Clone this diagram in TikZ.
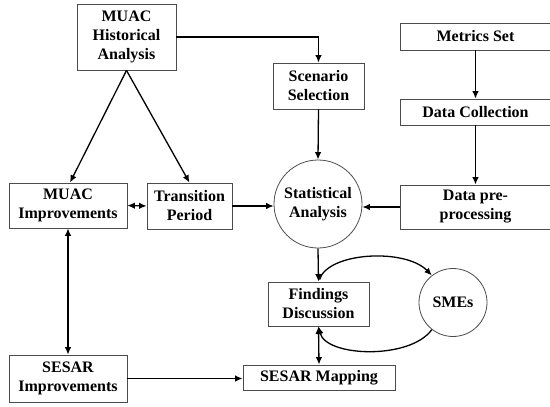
\documentclass[tikz,border=0pt]{standalone}
\usepackage{fontspec}
\setmainfont{Liberation Serif}
\usetikzlibrary{arrows.meta,calc}
\begin{document}
\begin{tikzpicture}[x=1pt,y=-1pt,
  box/.style={draw=black!70, line width=0.8pt, inner sep=0pt, align=center,
    font=\fontsize{16}{19}\selectfont\bfseries},
  circ/.style={circle, draw=black!70, line width=0.8pt, inner sep=0pt, align=center,
    font=\fontsize{16}{19}\selectfont\bfseries},
  arr/.style={line width=1.3pt, -{Latex[length=7.5pt,width=6.5pt]}},
  darr/.style={line width=1.3pt, {Latex[length=7.5pt,width=6.5pt]}-{Latex[length=7.5pt,width=6.5pt]}}]
\useasboundingbox (0,0) rectangle (550,407);
\fill[white] (0,0) rectangle (550,407);
\node[box, minimum width=99pt, minimum height=66pt] (hist) at (126.5,37) {MUAC\\Historical\\Analysis};
\node[box, minimum width=91pt, minimum height=46pt] (scen) at (318.5,86) {Scenario\\Selection};
\node[box, minimum width=151pt, minimum height=27pt] (metrics) at (475.5,36.5) {Metrics Set};
\node[box, minimum width=151pt, minimum height=26pt] (dcoll) at (475.5,112) {Data Collection};
\node[box, minimum width=151pt, minimum height=44pt] (dpre) at (475.5,207) {Data pre-\\processing};
\node[circ, minimum size=88pt] (stat) at (318,204) {Statistical\\Analysis};
\node[box, minimum width=118pt, minimum height=45pt] (muimp) at (68,205.5) {MUAC\\Improvements};
\node[box, minimum width=85pt, minimum height=46pt] (trans) at (189.5,206) {Transition\\Period};
\node[box, minimum width=101pt, minimum height=44pt] (find) at (318.5,304) {Findings\\Discussion};
\node[circ, minimum size=68pt] (smes) at (453,302.5) {SMEs};
\node[box, minimum width=152pt, minimum height=25pt] (smap) at (319,377.5) {SESAR Mapping};
\node[box, minimum width=118pt, minimum height=47pt] (sesimp) at (68,378.5) {SESAR\\Improvements};

\draw[arr] (hist.east) -| (scen.north);
\draw[arr] (scen.south) -- (stat.north);
\draw[arr] (metrics.south) -- (dcoll.north);
\draw[arr] (dcoll.south) -- (dpre.north);
\draw[arr] (dpre.west) -- (dpre.west -| stat.east);
\draw[arr] (hist.south) -- ($(muimp.north)+(2,0)$);
\draw[arr] (hist.south) -- (trans.north);
\draw[darr] (muimp.east) -- (trans.west);
\draw[arr] (trans.east) -- (trans.east -| stat.west);
\draw[arr] (stat.south) -- (find.north);
\draw[darr] (find.south) -- (smap.north);
\draw[darr] (muimp.south) -- (sesimp.north);
\draw[arr] (sesimp.east) -- (sesimp.east -| smap.west);
\draw[arr] ($(find.north)+(1,-2)$) .. controls (328,252) and (405,248) .. (smes.128);
\draw[arr] (smes.232) .. controls (410,360) and (326,357) .. (find.south);
\end{tikzpicture}
\end{document}
